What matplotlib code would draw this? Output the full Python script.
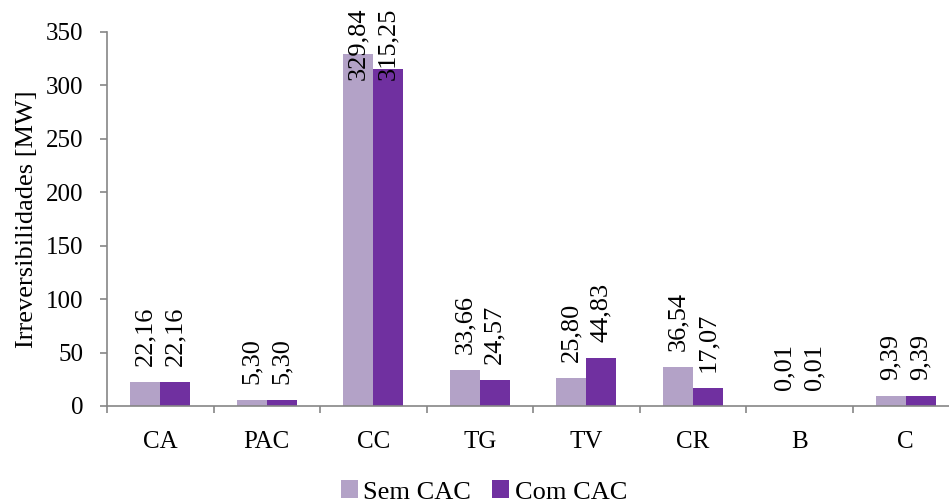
import matplotlib
matplotlib.use("Agg")
import matplotlib.pyplot as plt
import numpy as np

categories = ["CA", "PAC", "CC", "TG", "TV", "CR", "B", "C"]
sem_cac = [22.16, 5.30, 329.84, 33.66, 25.80, 36.54, 0.01, 9.39]
com_cac = [22.16, 5.30, 315.25, 24.57, 44.83, 17.07, 0.01, 9.39]
series_names = ["Sem CAC", "Com CAC"]
y_ticks = [0, 50, 100, 150, 200, 250, 300, 350]

plt.rcParams["font.family"] = ["Liberation Serif", "DejaVu Serif"]

light = "#B3A2C7"
dark = "#7030A0"
axis_gray = "#868686"

fig = plt.figure(figsize=(9.49, 5.04), dpi=100)
ax = fig.add_axes([107 / 949, 1 - 406 / 504, (959 - 107) / 949, (406 - 32) / 504])

x = np.arange(len(categories))
w = 0.282
b1 = ax.bar(x - w / 2, sem_cac, w, color=light, label=series_names[0])
b2 = ax.bar(x + w / 2, com_cac, w, color=dark, label=series_names[1])

ax.set_xlim(-0.5, len(categories) - 0.5)
ax.set_ylim(0, 350)
ax.set_yticks(y_ticks)
ax.set_yticklabels([str(t) for t in y_ticks], fontsize=18)

# boundary ticks between categories, labels centred on each group
ax.set_xticks(np.arange(len(categories) + 1) - 0.5)
ax.set_xticklabels([])
ax.set_xticks(x, minor=True)
ax.set_xticklabels(categories, minor=True, fontsize=18)
ax.tick_params(axis="x", which="major", length=5, width=1.2, color=axis_gray, direction="out")
ax.tick_params(axis="x", which="minor", length=0, pad=18)
ax.tick_params(axis="y", length=5, width=1.2, color=axis_gray, direction="out", pad=12)

for s in ["top", "right"]:
    ax.spines[s].set_visible(False)
for s in ["left", "bottom"]:
    ax.spines[s].set_color(axis_gray)
    ax.spines[s].set_linewidth(1.2)

ax.set_ylabel("Irreversibilidades [MW]", fontsize=19, labelpad=6)


def fmt(v):
    return f"{v:.2f}".replace(".", ",")


def label_bars(bars, values):
    for rect, v in zip(bars, values):
        cx = rect.get_x() + rect.get_width() / 2
        if v > 280:
            ax.annotate(fmt(v), xy=(cx, 1.0), xycoords=("data", "axes fraction"),
                        xytext=(0, 24), textcoords="offset pixels",
                        rotation=90, ha="center", va="top", fontsize=19,
                        annotation_clip=False)
        else:
            ax.annotate(fmt(v), xy=(cx, v), xytext=(0, 16), textcoords="offset pixels",
                        rotation=90, ha="center", va="bottom", fontsize=19)


label_bars(b1, sem_cac)
label_bars(b2, com_cac)

fig.legend(handles=[b1, b2], labels=series_names, loc="center",
           bbox_to_anchor=(484 / 949, 1 - 492 / 504), ncol=2, frameon=False,
           fontsize=19, handlelength=0.65, handleheight=0.65, handletextpad=0.2,
           columnspacing=0.8)

fig.savefig("out.png", dpi=100)
